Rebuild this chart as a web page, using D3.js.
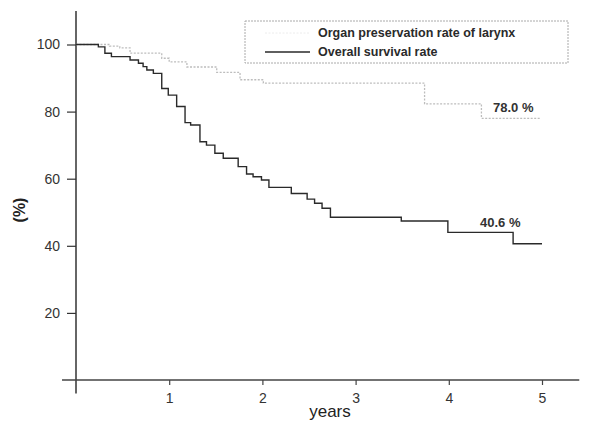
<!DOCTYPE html>
<html>
<head>
<meta charset="utf-8">
<script src="https://cdn.jsdelivr.net/npm/d3@7"></script>
<style>
  body { margin: 0; background: #fff; }
  svg { font-family: "Liberation Sans", Arial, sans-serif; }
</style>
</head>
<body>
<svg id="chart" width="594" height="426"></svg>
<script>
// Kaplan-Meier steps (years, %)
const survivalTimes = [0, 0.24, 0.31, 0.38, 0.58, 0.67, 0.72, 0.76, 0.83, 0.92, 0.99, 1.08, 1.17, 1.23, 1.33, 1.40, 1.49, 1.58, 1.74, 1.83, 1.90, 1.99, 2.07, 2.31, 2.48, 2.56, 2.64, 2.73, 3.49, 3.99, 4.69, 5.0];
const survivalValues = [100, 99.3, 97.4, 96.4, 95.4, 94.4, 93.4, 92.4, 91.4, 86.9, 84.9, 81.5, 76.7, 76.0, 71.0, 70.0, 67.6, 66.1, 63.6, 61.4, 60.6, 59.6, 57.4, 55.6, 53.9, 52.7, 51.2, 48.5, 47.4, 44.0, 40.6, 40.6];

const larynxTimes = [0, 0.36, 0.47, 0.58, 0.92, 1.0, 1.19, 1.51, 1.76, 2.01, 3.74, 4.35, 4.98];
const larynxValues = [100, 99.5, 99.0, 97.4, 95.9, 94.8, 93.3, 91.7, 89.5, 88.5, 82.3, 78.0, 78.0];

const xTicks = [1, 2, 3, 4, 5];
const yTicks = [20, 40, 60, 80, 100];
const legendLabels = ["Organ preservation rate of larynx", "Overall survival rate"];
const endLabels = ["78.0 %", "40.6 %"];

const survival = survivalTimes.map((t, i) => ({ t, v: survivalValues[i] }));
const larynx = larynxTimes.map((t, i) => ({ t, v: larynxValues[i] }));

const svg = d3.select("#chart");

const x = d3.scaleLinear().domain([0, 5]).range([76, 542]);
const y = d3.scaleLinear().domain([0, 100]).range([380, 44.5]);

// axis lines (the y axis pokes below the x axis like in the original)
svg.append("line")
  .attr("x1", x(0)).attr("x2", x(0))
  .attr("y1", y(110)).attr("y2", y(-4))
  .attr("stroke", "#333").attr("stroke-width", 1.5);

svg.append("line")
  .attr("x1", x(-0.15)).attr("x2", x(5.4))
  .attr("y1", y(0)).attr("y2", y(0))
  .attr("stroke", "#444").attr("stroke-width", 1.5);

const yAxis = d3.axisLeft(y).tickValues(yTicks).tickSize(9).tickPadding(7);
const gy = svg.append("g").attr("transform", `translate(${ x(0) },0)`).call(yAxis);
gy.select(".domain").remove();
gy.selectAll("line").attr("stroke", "#333").attr("stroke-width", 1.2);
gy.selectAll("text").style("font-size", "14px").attr("fill", "#333");

const xAxis = d3.axisBottom(x).tickValues(xTicks).tickFormat(d3.format("d")).tickSize(5).tickPadding(8);
const gx = svg.append("g").attr("transform", `translate(0,${ y(0) })`).call(xAxis);
gx.select(".domain").remove();
gx.selectAll("line").attr("stroke", "#444").attr("stroke-width", 1.2);
gx.selectAll("text").style("font-size", "14px").attr("fill", "#333");

// axis titles
svg.append("text")
  .attr("x", 330).attr("y", 417)
  .attr("text-anchor", "middle")
  .style("font-size", "17px")
  .attr("fill", "#222")
  .text("years");

svg.append("text")
  .attr("transform", "translate(25,210) rotate(-90)")
  .attr("text-anchor", "middle")
  .style("font-size", "16px")
  .style("font-weight", "bold")
  .attr("fill", "#222")
  .text("(%)");

// step curves
const line = d3.line()
  .x(d => x(d.t))
  .y(d => y(d.v))
  .curve(d3.curveStepAfter);

svg.append("path")
  .datum(larynx)
  .attr("fill", "none")
  .attr("stroke", "#bdbdbd")
  .attr("stroke-width", 1.3)
  .attr("stroke-dasharray", "2,1.5")
  .attr("d", line);

svg.append("path")
  .datum(survival)
  .attr("fill", "none")
  .attr("stroke", "#2a2a2a")
  .attr("stroke-width", 1.4)
  .attr("d", line);

// end value labels
svg.append("text")
  .attr("x", 493).attr("y", y(78) - 6)
  .style("font-size", "13px").style("font-weight", "bold")
  .attr("fill", "#333")
  .text(endLabels[0]);

svg.append("text")
  .attr("x", 480).attr("y", y(44) - 5)
  .style("font-size", "13px").style("font-weight", "bold")
  .attr("fill", "#333")
  .text(endLabels[1]);

// legend
svg.append("rect")
  .attr("x", 245).attr("y", 21)
  .attr("width", 323).attr("height", 42)
  .attr("fill", "none")
  .attr("stroke", "#aaa")
  .attr("stroke-width", 1)
  .attr("stroke-dasharray", "2,1");

svg.append("line")
  .attr("x1", 265).attr("x2", 310)
  .attr("y1", 33).attr("y2", 33)
  .attr("stroke", "#ececec")
  .attr("stroke-width", 1)
  .attr("stroke-dasharray", "2,1.5");

svg.append("line")
  .attr("x1", 265).attr("x2", 310)
  .attr("y1", 52).attr("y2", 52)
  .attr("stroke", "#2a2a2a")
  .attr("stroke-width", 1.3);

svg.selectAll(".legend-text")
  .data(legendLabels)
  .enter()
  .append("text")
  .attr("class", "legend-text")
  .attr("x", 318)
  .attr("y", (d, i) => 37 + i * 19)
  .style("font-size", "12.5px")
  .style("font-weight", "bold")
  .attr("fill", "#2a2a2a")
  .text(d => d);
</script>
</body>
</html>
